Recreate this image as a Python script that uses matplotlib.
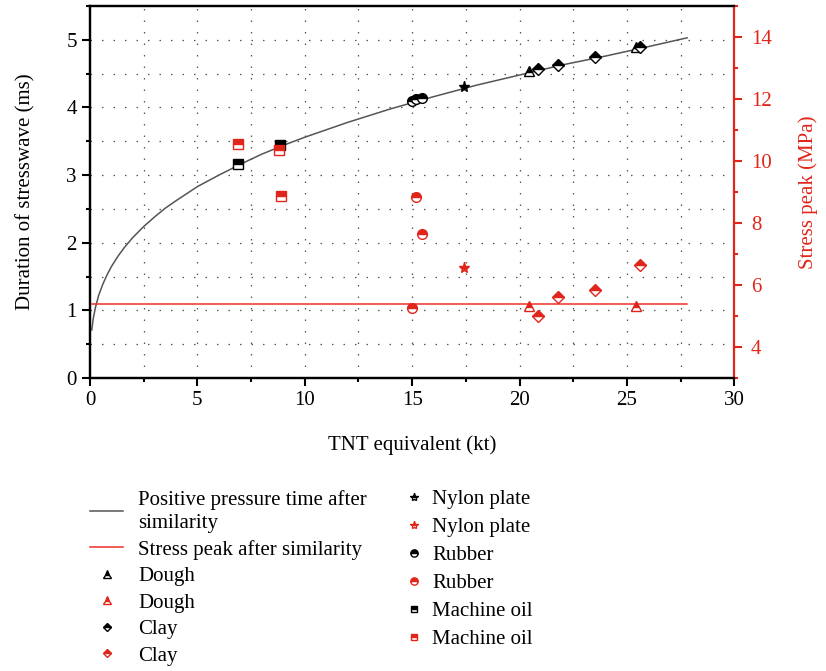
import matplotlib
matplotlib.use('Agg')
import matplotlib.pyplot as plt
from matplotlib.ticker import MultipleLocator

plt.rcParams['font.family'] = ['Liberation Serif', 'DejaVu Serif']

# fitted curve (positive pressure time after similarity)
curve_x = [0.08, 0.15, 0.25, 0.4, 0.6, 0.8, 1.0, 1.3, 1.6, 2.0, 2.5, 3.0, 3.5, 4.0, 5.0,
           6.0, 7.0, 8.0, 9.0, 10, 12, 14, 16, 18, 20, 22, 24, 26, 27.8]
curve_y = [0.71, 0.88, 1.04, 1.22, 1.39, 1.53, 1.65, 1.80, 1.93, 2.08, 2.24, 2.38, 2.51,
           2.62, 2.83, 3.00, 3.16, 3.31, 3.44, 3.56, 3.78, 3.98, 4.16, 4.33, 4.48,
           4.63, 4.76, 4.90, 5.03]

# stress peak after similarity (MPa), horizontal line
stress_line_x = [0.1, 27.8]
stress_line_y = [5.4, 5.4]

# duration of stress wave (ms), black markers
dough_x = [20.46, 25.4]
dough_dur = [4.54, 4.90]
clay_x = [20.88, 21.8, 23.5, 25.6]
clay_dur = [4.57, 4.63, 4.75, 4.90]
nylon_x = [17.4]
nylon_dur = [4.31]
rubber_x = [14.98, 15.17, 15.48]
rubber_dur = [4.10, 4.12, 4.14]
oil_x = [6.88, 8.85]
oil_dur = [3.17, 3.44]

# stress peak (MPa), red markers
dough_peak = [5.33, 5.33]
clay_peak = [5.01, 5.60, 5.84, 6.64]
nylon_peak = [6.56]
rubber_peak = [5.27, 8.84, 7.64]
oil_x_red = [6.88, 8.80, 8.88]
oil_peak = [10.55, 10.37, 8.87]

RED = '#e0261b'

fig = plt.figure(figsize=(8.26, 6.71), dpi=100)
ax = fig.add_axes([0.109, 0.4367, 0.78, 0.5543])
ax2 = ax.twinx()

grid_kw = dict(color='#555555', linestyle=(0, (1.2, 8)), linewidth=0.9)
for v in [2.5 * i for i in range(1, 12)]:
    ax.axvline(v, **grid_kw, zorder=0)
for v in [0.5 * i for i in range(1, 11)]:
    ax.axhline(v, **grid_kw, zorder=0)

line_black, = ax.plot(curve_x, curve_y, color='#555555', lw=1.1,
                      label='Positive pressure time after\nsimilarity')
line_red, = ax2.plot(stress_line_x, stress_line_y, color='#f0302a', lw=1.1,
                     label='Stress peak after similarity')

def mk(axis, x, y, marker, color, size, label):
    h, = axis.plot(x, y, ls='none', marker=marker, ms=size, color=color,
                   markerfacecolor=color, markerfacecoloralt='white',
                   markeredgecolor=color, fillstyle='top', markeredgewidth=1.0,
                   label=label, zorder=5)
    return h

h_dough_b = mk(ax, dough_x, dough_dur, '^', 'black', 7, 'Dough')
h_dough_r = mk(ax2, dough_x, dough_peak, '^', RED, 7, 'Dough')
h_clay_b = mk(ax, clay_x, clay_dur, 'D', 'black', 6, 'Clay')
h_clay_r = mk(ax2, clay_x, clay_peak, 'D', RED, 6, 'Clay')
h_nylon_b = mk(ax, nylon_x, nylon_dur, '*', 'black', 8, 'Nylon plate')
h_nylon_r = mk(ax2, nylon_x, nylon_peak, '*', RED, 8, 'Nylon plate')
h_rub_b = mk(ax, rubber_x, rubber_dur, 'o', 'black', 7, 'Rubber')
h_rub_r = mk(ax2, rubber_x, rubber_peak, 'o', RED, 7, 'Rubber')
h_oil_b = mk(ax, oil_x, oil_dur, 's', 'black', 6.5, 'Machine oil')
h_oil_r = mk(ax2, oil_x_red, oil_peak, 's', RED, 6.5, 'Machine oil')

ax.set_xlim(0, 30)
ax.set_ylim(0, 5.5)
ax2.set_ylim(3, 15)
ax.xaxis.set_major_locator(MultipleLocator(5))
ax.xaxis.set_minor_locator(MultipleLocator(2.5))
ax.yaxis.set_major_locator(MultipleLocator(1))
ax.yaxis.set_minor_locator(MultipleLocator(0.5))
ax2.yaxis.set_major_locator(MultipleLocator(2))
ax2.yaxis.set_minor_locator(MultipleLocator(1))

ax.tick_params(which='both', direction='out', labelsize=15, width=1.5, top=False)
ax.tick_params(which='major', length=6)
ax.tick_params(which='minor', length=3)
ax2.tick_params(which='both', direction='out', colors=RED, labelsize=15, width=1.5)
ax2.tick_params(which='major', length=6, pad=6)
ax2.tick_params(which='minor', length=3)

for s in ['left', 'bottom', 'top']:
    ax.spines[s].set_linewidth(1.6)
    ax2.spines[s].set_linewidth(1.6)
ax2.spines['right'].set_color(RED)
ax2.spines['right'].set_linewidth(1.6)
ax.spines['right'].set_visible(False)

ax.set_xlabel('TNT equivalent (kt)', fontsize=15, labelpad=18)
ax.set_ylabel('Duration of stresswave (ms)', fontsize=15, labelpad=22)
ax2.set_ylabel('Stress peak (MPa)', fontsize=15, color=RED, labelpad=19)

# two legend columns, drawn as two frameless legends
col1 = [line_black, line_red, h_dough_b, h_dough_r, h_clay_b, h_clay_r]
col2 = [h_nylon_b, h_nylon_r, h_rub_b, h_rub_r, h_oil_b, h_oil_r]
leg1 = fig.legend(handles=col1, labels=[h.get_label() for h in col1],
                  loc='upper left', bbox_to_anchor=(0.109, 0.270),
                  frameon=False, fontsize=15, handlelength=1.6, handletextpad=0.7,
                  borderpad=0, borderaxespad=0, labelspacing=0.33, markerscale=0.75)
leg1.get_texts()[0].set_linespacing(1.3)
leg2 = fig.legend(handles=col2, labels=[h.get_label() for h in col2],
                  loc='upper left', bbox_to_anchor=(401.5 / 826, 0.270),
                  frameon=False, fontsize=15, handlelength=1.2, handletextpad=0.26,
                  borderpad=0, borderaxespad=0, labelspacing=0.4, markerscale=0.75)

fig.savefig('out.png', dpi=100)
